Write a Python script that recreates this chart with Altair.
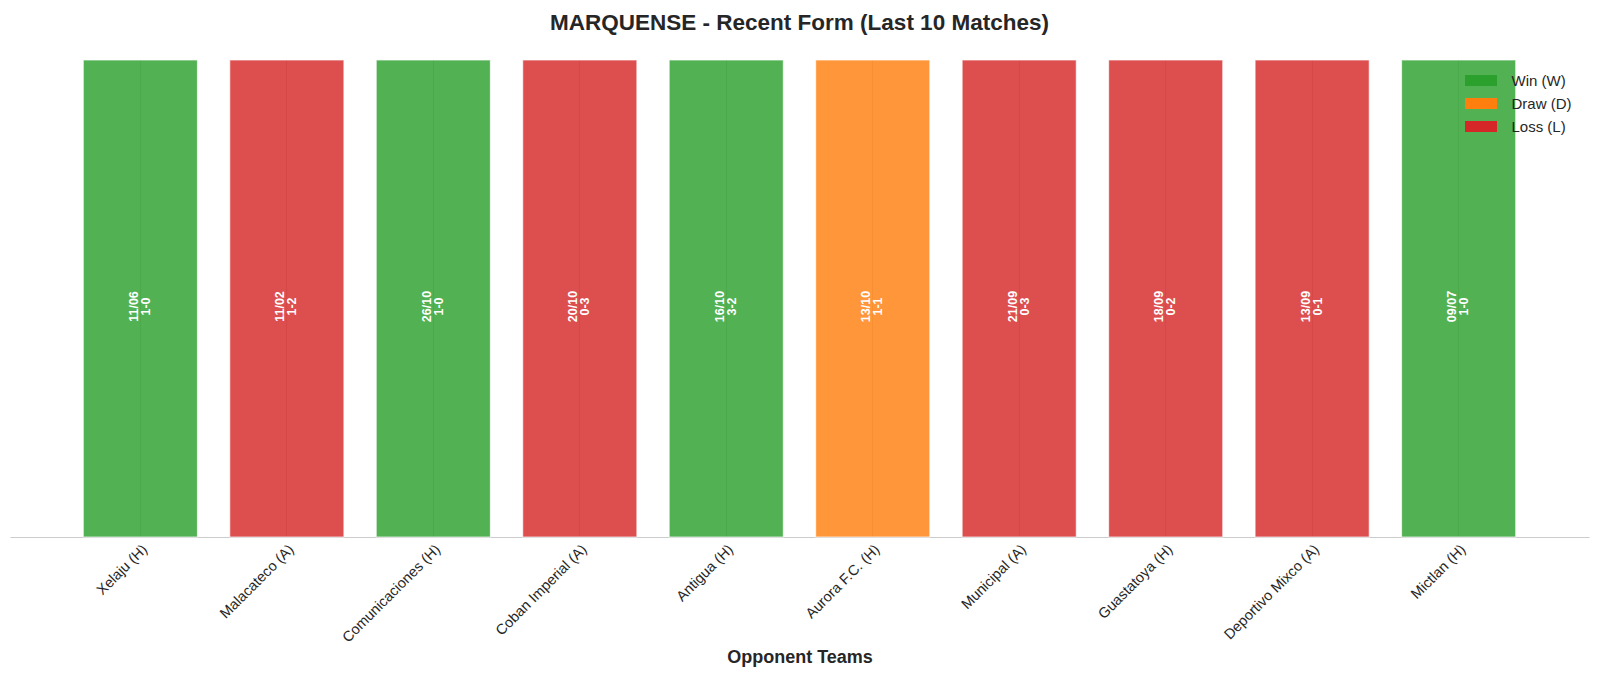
import altair as alt
import pandas as pd

opponents = ["Xelaju (H)", "Malacateco (A)", "Comunicaciones (H)", "Coban Imperial (A)",
             "Antigua (H)", "Aurora F.C. (H)", "Municipal (A)", "Guastatoya (H)",
             "Deportivo Mixco (A)", "Mictlan (H)"]
results = ["W", "L", "W", "L", "W", "D", "L", "L", "L", "W"]
dates = ["11/06", "11/02", "26/10", "20/10", "16/10", "13/10", "21/09", "18/09", "13/09", "09/07"]
scores = ["1-0", "1-2", "1-0", "0-3", "3-2", "1-1", "0-3", "0-2", "0-1", "1-0"]
bar_value = [1] * 10

result_names = {"W": "Win (W)", "D": "Draw (D)", "L": "Loss (L)"}
legend_order = ["Win (W)", "Draw (D)", "Loss (L)"]
legend_colors = ["#2ca02c", "#ff7f0e", "#d62728"]

df = pd.DataFrame({
    "opponent": opponents,
    "result": [result_names[r] for r in results],
    "label": [d + "\n" + s for d, s in zip(dates, scores)],
    "value": bar_value,
})

FONT = "Liberation Sans"

x_enc = alt.X(
    "opponent:N", sort=opponents,
    scale=alt.Scale(paddingInner=0.22, paddingOuter=0.5),
    axis=alt.Axis(
        title="Opponent Teams", labelAngle=-45, labelAlign="right", labelBaseline="top",
        labelFontSize=14.5, labelColor="#262626", labelFont=FONT, labelPadding=5,
        titleFont=FONT, titleFontSize=18, titleFontWeight="bold", titleColor="#262626",
        titlePadding=4, ticks=False, domainColor="#cccccc", domainWidth=1,
        grid=True, gridColor="#d5d5d5", gridWidth=1, bandPosition=0.5,
    ),
)

bars = alt.Chart(df).mark_bar(fillOpacity=0.82, stroke="white", strokeWidth=1.2, strokeOpacity=0.7).encode(
    x=x_enc,
    y=alt.Y("value:Q", scale=alt.Scale(domain=[0, 1]), axis=None),
    color=alt.Color(
        "result:N",
        scale=alt.Scale(domain=legend_order, range=legend_colors),
        legend=alt.Legend(
            title=None, orient="none", legendX=1463.5, legendY=13, padding=0,
            symbolType="M-2.909,-1H2.909V1H-2.909Z", symbolSize=121,
            symbolOpacity=1, symbolStrokeWidth=0, labelOffset=23,
            labelFontSize=15, labelFont=FONT, labelColor="#262626", rowPadding=7,
        ),
    ),
)

texts = alt.Chart(df).mark_text(
    angle=270, align="center", baseline="middle", color="white", dx=-6.5, dy=-6.5,
    fontWeight="bold", fontSize=12.5, font=FONT, lineBreak="\n", lineHeight=12,
).encode(
    x=alt.X("opponent:N", sort=opponents),
    y=alt.value(240),
    text="label:N",
)

chart = alt.layer(bars, texts).properties(
    width=1584, height=663, background="white",
    autosize=alt.AutoSizeParams(type="fit", contains="padding"),
    padding={"left": 2, "top": 3, "right": 3, "bottom": 4},
    title=alt.TitleParams(
        "MARQUENSE - Recent Form (Last 10 Matches)", font=FONT, fontSize=22.5,
        fontWeight="bold", color="#262626", anchor="middle", offset=25,
    ),
).configure_view(stroke=None)

chart.save("out.html", embed_options={"renderer": "svg", "actions": False})
